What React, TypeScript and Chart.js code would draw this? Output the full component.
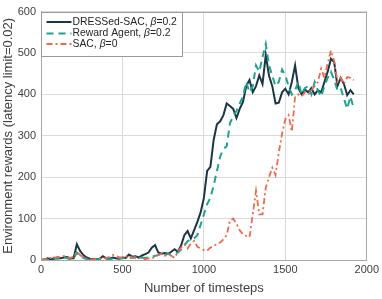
import React, { useEffect, useRef } from "react";
import { Chart, registerables } from "chart.js";

Chart.register(...registerables);

const timesteps = [
  0, 20, 40, 60, 80, 100, 120, 140, 160, 180,
  200, 220, 240, 260, 280, 300, 320, 340, 360, 380,
  400, 420, 440, 460, 480, 500, 520, 540, 560, 580,
  600, 620, 640, 660, 680, 700, 720, 740, 760, 780,
  800, 820, 840, 860, 880, 900, 920, 940, 960, 980,
  1000, 1020, 1040, 1060, 1080, 1100, 1120, 1140, 1160, 1180,
  1200, 1220, 1240, 1260, 1280, 1300, 1320, 1340, 1360, 1380,
  1400, 1420, 1440, 1460, 1480, 1500, 1520, 1540, 1560, 1580,
  1600, 1620, 1640, 1660, 1680, 1700, 1720, 1740, 1760, 1780,
  1800, 1820, 1840, 1860, 1880, 1900, 1920,
];

const dressedSac = [
  0, 1, 4, 2, 3, 5, 4, 6, 7, 4,
  4, 38, 22, 12, 6, 3, 2, 2, 3, 9,
  4, 3, 6, 4, 3, 6, 5, 13, 8, 9,
  6, 11, 14, 18, 30, 36, 18, 15, 17, 15,
  20, 26, 20, 35, 60, 70, 52, 72, 92, 115,
  150, 215, 225, 290, 328, 335, 350, 378, 372, 365,
  343, 365, 382, 420, 435, 405, 420, 446, 425, 495,
  445, 420, 378, 380, 405, 414, 400, 430, 470, 415,
  400, 412, 405, 415, 400, 410, 405, 430, 455, 486,
  478, 420, 440, 425, 398, 410, 400,
];

const rewardAgent = [
  0, 0, 2, 4, 6, 3, 5, 7, 4, 2,
  3, 18, 10, 5, 2, 1, 1, 2, 2, 3,
  2, 2, 3, 4, 3, 4, 5, 6, 5, 8,
  4, 6, 5, 6, 8, 10, 12, 14, 12, 15,
  14, 16, 18, 25, 35, 45, 50, 52, 60, 85,
  110, 135, 150, 180, 215, 250, 268, 275, 330, 348,
  360, 378, 395, 430, 405, 420, 470, 455, 490, 522,
  470, 445, 420, 430, 460, 445, 420, 400, 410, 430,
  400, 415, 420, 400, 430, 410, 395, 420, 440, 455,
  435, 410, 415, 390, 365, 395, 366,
];

const sac = [
  2, 1, 3, 5, 4, 8, 6, 10, 7, 5,
  8, 20, 12, 6, 3, 2, 1, 2, 3, 5,
  4, 8, 12, 10, 7, 5, 8, 10, 6, 4,
  5, 3, 2, 4, 3, 8, 12, 15, 10, 14,
  10, 5, 20, 30, 38, 28, 40, 46, 32, 28,
  24, 22, 30, 34, 38, 42, 50, 60, 95, 100,
  88, 72, 62, 58, 55, 110, 167, 110, 110, 175,
  200, 223, 205, 260, 305, 340, 350, 310, 395, 400,
  395, 405, 400, 410, 420, 430, 462, 440, 475, 506,
  480, 430, 440, 425, 442, 440, 434,
];

const seriesNames = ["DRESSed-SAC, ", "Reward Agent, ", "SAC, "];
const seriesBetas = ["=0.2", "=0.2", "=0"];
const xTitle = "Number of timesteps";
const yTitle = "Environment rewards (latency limit=0.02)";

const COLORS = ["#1c3547", "#1fa38c", "#ef6a4c"];
const DASHES: number[][] = [[], [7, 5], [6, 3, 2, 3]];
const WIDTHS = [2, 2, 1.8];
const FONT = "'Liberation Sans', Arial, Helvetica, sans-serif";
const BOX = "#a8a8a8";
const LEGEND_FONT = 10.4;

const boxLegendPlugin = {
  id: "boxLegend",
  afterDatasetsDraw(chart: any) {
    const { ctx, chartArea } = chart;
    const { left, top, right, bottom } = chartArea;
    ctx.save();
    ctx.strokeStyle = BOX;
    ctx.lineWidth = 1;
    ctx.setLineDash([]);
    ctx.strokeRect(Math.round(left) + 0.5, Math.round(top) + 0.5, Math.round(right - left) - 1, Math.round(bottom - top));
    // legend
    const lx = Math.round(left) + 0.5;
    const ly = Math.round(top) + 0.5;
    const lw = 141;
    const lh = 44;
    ctx.fillStyle = "#ffffff";
    ctx.fillRect(lx, ly, lw, lh);
    ctx.strokeStyle = "#9a9a9a";
    ctx.strokeRect(lx, ly, lw, lh);
    const rowsY = [ly + 9.5, ly + 21, ly + 31.5];
    for (let i = 0; i < 3; i++) {
      const y = rowsY[i];
      ctx.beginPath();
      ctx.strokeStyle = COLORS[i];
      ctx.lineWidth = WIDTHS[i];
      ctx.setLineDash(DASHES[i]);
      ctx.moveTo(lx + 5, y);
      ctx.lineTo(lx + 30, y);
      ctx.stroke();
      ctx.setLineDash([]);
      ctx.fillStyle = "#262626";
      ctx.textBaseline = "middle";
      ctx.textAlign = "left";
      let tx = lx + 31;
      ctx.font = `${LEGEND_FONT}px ${FONT}`;
      ctx.fillText(seriesNames[i], tx, y);
      tx += ctx.measureText(seriesNames[i]).width;
      ctx.font = `italic ${LEGEND_FONT}px ${FONT}`;
      ctx.fillText("β", tx, y);
      tx += ctx.measureText("β").width;
      ctx.font = `${LEGEND_FONT}px ${FONT}`;
      ctx.fillText(seriesBetas[i], tx, y);
    }
    ctx.restore();
  },
};

export default function App() {
  const ref = useRef<HTMLCanvasElement | null>(null);
  useEffect(() => {
    if (!ref.current) return;
    const mk = (data: number[]) => timesteps.map((t, i) => ({ x: t, y: data[i] }));
    const chart = new Chart(ref.current, {
      type: "line",
      data: {
        datasets: [dressedSac, rewardAgent, sac].map((d, i) => ({
          label: seriesNames[i] + "β" + seriesBetas[i],
          data: mk(d),
          borderColor: COLORS[i],
          borderWidth: WIDTHS[i],
          borderDash: DASHES[i],
          pointRadius: 0,
          tension: 0,
          fill: false,
        })).reverse(),
      },
      options: {
        animation: false,
        responsive: false,
        devicePixelRatio: 1,
        layout: { padding: { left: 0, top: 9, right: 15, bottom: 0 } },
        plugins: { legend: { display: false }, tooltip: { enabled: false } },
        scales: {
          x: {
            type: "linear",
            min: 0,
            max: 2000,
            ticks: { stepSize: 500, color: "#404040", font: { family: FONT, size: 11 }, padding: 3, maxRotation: 0, callback: (v: any) => String(v) },
            grid: { color: "#dadada", drawTicks: false },
            border: { display: true, color: BOX },
            title: { display: true, text: xTitle, color: "#404040", font: { family: FONT, size: 13 }, padding: { top: 0, bottom: 3 } },
            afterFit: (s: any) => { s.height = 39; },
          },
          y: {
            min: 0,
            max: 600,
            ticks: { stepSize: 100, color: "#404040", font: { family: FONT, size: 11 }, padding: 5, callback: (v: any) => String(v) },
            grid: { color: "#dadada", drawTicks: false },
            border: { display: true, color: BOX },
            title: { display: true, text: yTitle, color: "#404040", font: { family: FONT, size: 13 }, padding: { top: 1, bottom: 0 } },
            afterFit: (s: any) => { s.width = 41; },
          },
        },
      },
      plugins: [boxLegendPlugin],
    } as any);
    return () => chart.destroy();
  }, []);
  return (
    <div style={{ position: "fixed", left: 0, top: 0, width: 382, height: 299, background: "#fff" }}>
      <canvas ref={ref} width={382} height={299} style={{ width: 382, height: 299, display: "block" }} />
    </div>
  );
}
